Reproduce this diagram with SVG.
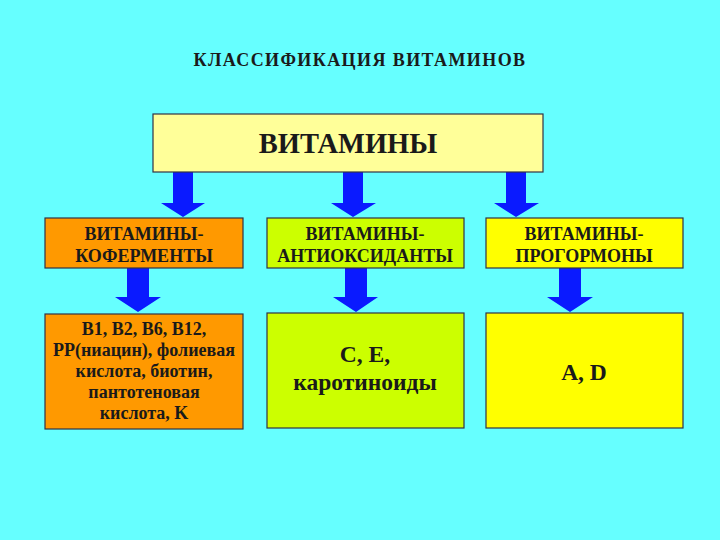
<svg xmlns="http://www.w3.org/2000/svg" width="720" height="540" viewBox="0 0 720 540">
<style>
  text { font-family: "Liberation Serif", "Times New Roman", serif; font-weight: bold; fill: #1a1a1a; text-anchor: middle; }
  .box { stroke: #333344; stroke-width: 1.2; }
  .arrow { fill: #0a1aff; }
  .t18 { font-size: 18px; }
  .t18b { font-size: 18px; }
  .t23 { font-size: 23.5px; }
</style>
<rect x="0" y="0" width="720" height="540" fill="#66FFFF"/>
<text x="360" y="66" class="t18" style="letter-spacing:1.4px">КЛАССИФИКАЦИЯ ВИТАМИНОВ</text>

<g id="connectors">
  <path class="arrow" d="M173,172 H193 V203 H205 L183,217 L161,203 H173 Z"/>
  <path class="arrow" d="M343,172 H363 V203 H376 L353,217 L331,203 H343 Z"/>
  <path class="arrow" d="M506,172 H526 V203 H539 L516,217 L494,203 H506 Z"/>
  <path class="arrow" d="M127,268 H149 V297 H161 L138,312 L115,297 H127 Z"/>
  <path class="arrow" d="M345,268 H367 V297 H378 L356,312 L333,297 H345 Z"/>
  <path class="arrow" d="M559,268 H581 V297 H593 L570,312 L547,297 H559 Z"/>
</g>

<g id="vitamins">
  <rect class="box" x="153" y="114" width="390" height="58" fill="#FFFF99"/>
  <text x="348" y="153" style="font-size:28.5px">ВИТАМИНЫ</text>
</g>

<g id="coenzymes">
  <rect class="box" x="45" y="218" width="198" height="50" fill="#FF9900"/>
  <text x="144" y="240" class="t18">ВИТАМИНЫ-</text>
  <text x="144" y="262" class="t18">КОФЕРМЕНТЫ</text>
</g>

<g id="antioxidants">
  <rect class="box" x="267" y="218" width="197" height="50" fill="#CCFF00"/>
  <text x="365" y="240" class="t18">ВИТАМИНЫ-</text>
  <text x="365" y="262" class="t18">АНТИОКСИДАНТЫ</text>
</g>

<g id="prohormones">
  <rect class="box" x="486" y="218" width="197" height="50" fill="#FFFF00"/>
  <text x="584" y="240" class="t18">ВИТАМИНЫ-</text>
  <text x="584" y="262" class="t18">ПРОГОРМОНЫ</text>
</g>

<g id="coenzymes-list">
  <rect class="box" x="45" y="314" width="198" height="115" fill="#FF9900"/>
  <text x="144" y="335" class="t18b">B1, B2, B6, B12,</text>
  <text x="144" y="356" class="t18b">PP(ниацин), фолиевая</text>
  <text x="144" y="377" class="t18b">кислота, биотин,</text>
  <text x="144" y="398" class="t18b">пантотеновая</text>
  <text x="144" y="419" class="t18b">кислота, K</text>
</g>

<g id="antioxidants-list">
  <rect class="box" x="267" y="313" width="197" height="115" fill="#CCFF00"/>
  <text x="365" y="362" class="t23">C, E,</text>
  <text x="365" y="390" class="t23">каротиноиды</text>
</g>

<g id="prohormones-list">
  <rect class="box" x="486" y="313" width="197" height="115" fill="#FFFF00"/>
  <text x="584" y="380" class="t23">A, D</text>
</g>
</svg>
